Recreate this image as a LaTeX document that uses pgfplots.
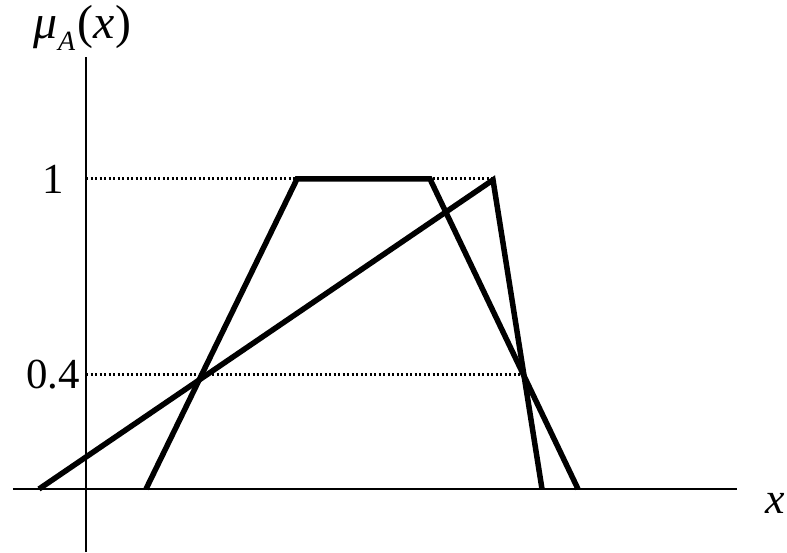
\documentclass[border=0pt]{standalone}
\usepackage{fontspec}
\setmainfont{Liberation Serif}
\usepackage{pgfplots}
\pgfplotsset{compat=1.18}
\begin{document}
\begin{tikzpicture}
\begin{axis}[
  scale only axis, width=724bp, height=495bp,
  xmin=-73, xmax=651, ymin=-0.2032, ymax=1.3935,
  axis lines=middle, axis line style={-, line width=1.8bp},
  xtick=\empty, ytick={0.368,1}, yticklabels={\textrm{0.4},\textrm{1}},
  major tick length=0pt,
  yticklabel style={anchor=center, xshift=-33bp, font=\fontsize{43}{50}\selectfont},
  clip=false,
]
% dotted guide lines
\addplot[line width=3bp, dash pattern=on 2.4bp off 2.1bp] coordinates {(0,1) (407,1)};
\addplot[line width=3bp, dash pattern=on 2.4bp off 2.1bp] coordinates {(0,0.368) (438,0.368)};
% triangle
\addplot[line width=5.5bp] coordinates {(-47,0) (407,0.997) (456,0)};
% trapezoid
\addplot[line width=5.5bp] coordinates {(60,0) (211,1) (344,1) (492,0)};
\node[anchor=base west, inner sep=0pt, font=\fontsize{48}{54}\selectfont] at (axis cs:-53,1.4516)
  {\textit{μ}\kern1bp\raisebox{-12bp}{\fontsize{28}{30}\selectfont\textit{A}}\kern2bp(\textit{x}\kern1bp)};
\node[font=\fontsize{44}{50}\selectfont] at (axis cs:689,-0.045) {\textit{x}};
\coordinate (bl) at (axis cs:-86,-0.2032);
\coordinate (tr) at (axis cs:701,1.5774);
\end{axis}
\pgfresetboundingbox
\path[use as bounding box] (bl) rectangle (tr);
\end{tikzpicture}
\end{document}
